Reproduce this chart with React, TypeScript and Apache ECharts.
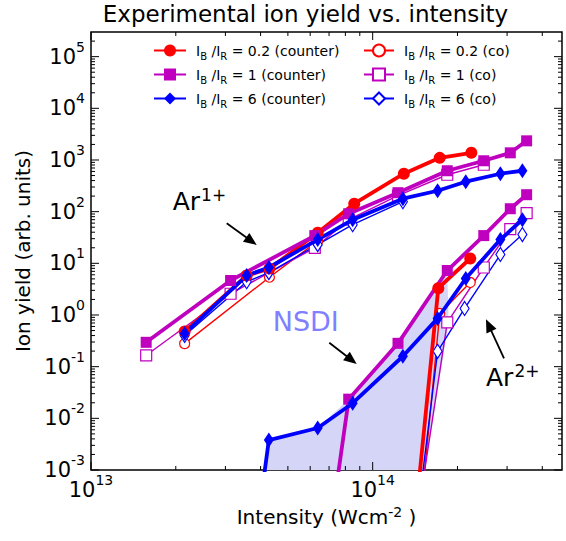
import React, { useEffect, useRef } from 'react';
import * as echarts from 'echarts';

const FONT = 'DejaVu Sans';

const X_MIN = 1e13;
const X_MAX = 4.7e14;
const Y_MIN = 1e-3;
const Y_MAX = 3e5;

const RATIOS = ['0.2', '1', '6'];
const COLORS = ['#ff0000', '#bf00bf', '#0000ff'];

// Ar1+ branch
const AR1_COUNTER_02 = [[2.15e13, 0.48], [3.57e13, 5.8], [4.3e13, 7.9], [6.38e13, 39], [8.6e13, 143], [1.29e14, 542], [1.73e14, 1100], [2.24e14, 1377]];
const AR1_COUNTER_1 = [[1.57e13, 0.296], [3.13e13, 4.65], [6.23e13, 34.4], [8.22e13, 91], [1.23e14, 233], [1.84e14, 619], [2.48e14, 966], [3.08e14, 1377], [3.52e14, 2348]];
const AR1_COUNTER_6 = [[2.15e13, 0.44], [3.57e13, 5.8], [4.28e13, 8.3], [6.38e13, 28.8], [8.49e13, 70], [1.28e14, 178], [1.7e14, 254], [2.14e14, 380], [2.84e14, 542], [3.4e14, 619]];
const AR1_CO_02 = [[2.15e13, 0.279], [4.3e13, 5.39], [6.38e13, 27]];
const AR1_CO_1 = [[1.57e13, 0.166], [3.13e13, 2.58], [6.23e13, 19.9], [8.22e13, 70], [1.23e14, 204], [1.84e14, 518], [2.48e14, 808]];
const AR1_CO_6 = [[2.15e13, 0.4], [3.57e13, 4.4], [4.28e13, 6.6], [6.38e13, 23], [8.49e13, 56], [1.28e14, 156]];

// Ar2+ branch
const AR2_COUNTER_02 = [[1.29e14, 7.6e-7], [1.71e14, 3.3], [2.22e14, 12.4]];
const AR2_COUNTER_1 = [[6.38e13, 1.3e-6], [8.22e13, 0.0235], [1.23e14, 0.283], [1.84e14, 7.26], [2.48e14, 34.4], [3.08e14, 114], [3.52e14, 213]];
const AR2_COUNTER_6 = [[3.57e13, 2.5e-6], [4.28e13, 0.0038], [6.38e13, 0.0065], [8.49e13, 0.0196], [1.28e14, 0.159], [1.7e14, 0.86], [2.14e14, 5.09], [2.84e14, 28.8], [3.4e14, 70]];
const AR2_CO_02 = [[1.47e14, 1e-4], [1.73e14, 1.07], [2.22e14, 4.26]];
const AR2_CO_1 = [[1.47e14, 2.4e-4], [1.84e14, 0.72], [2.48e14, 8.3], [3.08e14, 46], [3.52e14, 94]];
const AR2_CO_6 = [[1.47e14, 3e-4], [1.7e14, 0.198], [2.12e14, 1.34], [2.84e14, 14.8], [3.4e14, 36]];

// NSDI shaded region outline
const NSDI_FILL = [[4.14e13, 1e-3], [4.28e13, 0.0038], [6.38e13, 0.0065], [8.22e13, 0.0235], [1.23e14, 0.283], [1.84e14, 7.26], [1.86e14, 0.72], [1.53e14, 1e-3]];

// ticks
const X_MAJOR_TICKS = [1e13, 1e14];
const X_MINOR_TICKS = [2e13, 3e13, 4e13, 5e13, 6e13, 7e13, 8e13, 9e13, 2e14, 3e14, 4e14];
const Y_MAJOR_TICKS = [1e-3, 1e-2, 1e-1, 1, 10, 100, 1e3, 1e4, 1e5];
const MINOR_MULT = [2, 3, 4, 5, 6, 7, 8, 9];

const legendName = (i: number, mode: string) => `IB/IR = ${RATIOS[i]} (${mode})`;
const legendRich = (i: number, mode: string) => `{f|I}{s|B}{n| /I}{s|R}{n| = ${RATIOS[i]} (${mode})}`;

export default function App() {
  const ref = useRef<HTMLDivElement>(null);
  useEffect(() => {
    if (!ref.current) return;
    const chart = echarts.init(ref.current, undefined, { renderer: 'svg' });

    const counterSym = [
      { symbol: 'circle', size: 12 },
      { symbol: 'rect', size: 11 },
      { symbol: 'diamond', size: [10, 15] },
    ];
    const coSym = [
      { symbol: 'circle', size: 10 },
      { symbol: 'rect', size: 11 },
      { symbol: 'diamond', size: [9, 14] },
    ];
    const counterData = [[AR1_COUNTER_02, AR2_COUNTER_02], [AR1_COUNTER_1, AR2_COUNTER_1], [AR1_COUNTER_6, AR2_COUNTER_6]];
    const coData = [[AR1_CO_02, AR2_CO_02], [AR1_CO_1, AR2_CO_1], [AR1_CO_6, AR2_CO_6]];

    const lineSeries: any[] = [];
    [0, 1, 2].forEach((i) => {
      coData[i].forEach((d) => {
        lineSeries.push({
          type: 'line',
          name: legendName(i, 'co'),
          data: d,
          symbol: coSym[i].symbol,
          symbolSize: coSym[i].size,
          showAllSymbol: true,
          clip: true,
          lineStyle: { color: COLORS[i], width: 1.4 },
          itemStyle: { color: '#fff', borderColor: COLORS[i], borderWidth: 1.2 },
          emphasis: { disabled: true },
          z: 3,
        });
      });
    });
    [0, 1, 2].forEach((i) => {
      counterData[i].forEach((d) => {
        lineSeries.push({
          type: 'line',
          name: legendName(i, 'counter'),
          data: d,
          symbol: counterSym[i].symbol,
          symbolSize: counterSym[i].size,
          showAllSymbol: true,
          clip: true,
          lineStyle: { color: COLORS[i], width: 3.8 },
          itemStyle: { color: COLORS[i], borderColor: COLORS[i], borderWidth: 0 },
          emphasis: { disabled: true },
          z: 4,
        });
      });
    });

    const tickData: number[][] = [];
    X_MAJOR_TICKS.forEach((v) => tickData.push([v, Y_MIN, 1]));
    X_MINOR_TICKS.forEach((v) => tickData.push([v, Y_MIN, 2]));
    Y_MAJOR_TICKS.forEach((v) => tickData.push([X_MIN, v, 3]));
    for (let e = -3; e <= 5; e++) {
      MINOR_MULT.forEach((m) => {
        const v = m * Math.pow(10, e);
        if (v < Y_MAX * 0.99) tickData.push([X_MIN, v, 4]);
      });
    }

    const tickSeries = {
      type: 'custom',
      data: tickData,
      silent: true,
      z: 10,
      renderItem: (params: any, api: any) => {
        const kind = api.value(2);
        const p = api.coord([api.value(0), api.value(1)]);
        const cs = params.coordSys;
        const len = kind === 1 || kind === 3 ? 8 : 4;
        const style = { stroke: '#000', lineWidth: 1 };
        if (kind <= 2) {
          const b = cs.y + cs.height;
          return {
            type: 'group',
            children: [
              { type: 'line', shape: { x1: p[0], y1: b, x2: p[0], y2: b - len }, style },
              { type: 'line', shape: { x1: p[0], y1: cs.y, x2: p[0], y2: cs.y + len }, style },
            ],
          };
        }
        const r = cs.x + cs.width;
        return {
          type: 'group',
          children: [
            { type: 'line', shape: { x1: cs.x, y1: p[1], x2: cs.x + len, y2: p[1] }, style },
            { type: 'line', shape: { x1: r, y1: p[1], x2: r - len, y2: p[1] }, style },
          ],
        };
      },
    };

    const fillSeries = {
      type: 'custom',
      data: NSDI_FILL,
      silent: true,
      z: 1,
      renderItem: (params: any, api: any) => {
        if (params.dataIndex !== 0) return null;
        const pts = NSDI_FILL.map((d) => api.coord(d));
        return { type: 'polygon', shape: { points: pts }, style: { fill: '#d5d5f7', stroke: 'none' } };
      },
    };

    const arrow = (tx: number, ty: number, hx: number, hy: number) => {
      const dx = hx - tx;
      const dy = hy - ty;
      const L = Math.sqrt(dx * dx + dy * dy);
      const ux = dx / L;
      const uy = dy / L;
      const hl = 13;
      const hw = 5.5;
      const bx = hx - ux * hl;
      const by = hy - uy * hl;
      return [
        { type: 'line', shape: { x1: tx, y1: ty, x2: bx + ux * 2, y2: by + uy * 2 }, style: { stroke: '#000', lineWidth: 1.8 }, z: 20 },
        {
          type: 'polygon',
          shape: { points: [[hx, hy], [bx - uy * hw, by + ux * hw], [bx + uy * hw, by - ux * hw]] },
          style: { fill: '#000' },
          z: 20,
        },
      ];
    };

    const axisLabelFmt = (v: number) => {
      const l = Math.log10(v);
      const e = Math.round(l);
      if (Math.abs(l - e) > 1e-6) return '';
      return `{b|10}{sup|${e}}`;
    };
    const labelRich = {
      b: { fontSize: 21, fontFamily: FONT, color: '#000' },
      sup: { fontSize: 14, fontFamily: FONT, color: '#000', padding: [0, 0, 20, 0] },
    };

    const legends: any[] = [];
    const legendTextStyle = {
      fontFamily: FONT,
      fontSize: 14,
      color: '#000',
      rich: {
        f: { fontFamily: FONT, fontSize: 14, color: '#000', padding: [0, 0, 0, 5] },
        n: { fontFamily: FONT, fontSize: 14, color: '#000' },
        s: { fontFamily: FONT, fontSize: 10, color: '#000', padding: [12, 0, 0, 0] },
      },
    };
    [0, 1, 2].forEach((i) => {
      legends.push({
        data: [legendName(i, 'counter')],
        left: 153,
        top: 43.5 + i * 24,
        padding: 0,
        itemWidth: 32,
        itemHeight: 15,
        selectedMode: false,
        formatter: () => legendRich(i, 'counter'),
        textStyle: legendTextStyle,
      });
      legends.push({
        data: [legendName(i, 'co')],
        left: 363,
        top: 43.5 + i * 24,
        padding: 0,
        itemWidth: 30,
        itemHeight: 15,
        selectedMode: false,
        formatter: () => legendRich(i, 'co'),
        textStyle: legendTextStyle,
      });
    });

    const option: any = {
      animation: false,
      backgroundColor: '#fff',
      grid: { left: 91, right: 4, top: 32, bottom: 71, show: true, borderColor: '#000', borderWidth: 1.5, backgroundColor: 'transparent' },
      legend: legends,
      xAxis: {
        type: 'log',
        logBase: 10,
        min: X_MIN,
        max: X_MAX,
        interval: 1,
        axisLine: { show: false },
        axisTick: { show: false },
        splitLine: { show: false },
        axisLabel: { formatter: axisLabelFmt, rich: labelRich, margin: 3 },
        name: '{n|Intensity (Wcm}{s|-2}{n| )}',
        nameLocation: 'middle',
        nameGap: 35,
        nameTextStyle: {
          fontFamily: FONT,
          fontSize: 20,
          color: '#000',
          rich: {
            n: { fontFamily: FONT, fontSize: 20, color: '#000' },
            s: { fontFamily: FONT, fontSize: 14, color: '#000', padding: [0, 0, 9, 0] },
          },
        },
      },
      yAxis: {
        type: 'log',
        logBase: 10,
        min: Y_MIN,
        max: Y_MAX,
        interval: 1,
        axisLine: { show: false },
        axisTick: { show: false },
        splitLine: { show: false },
        axisLabel: { formatter: axisLabelFmt, rich: labelRich, margin: 6 },
        name: 'Ion yield (arb. units)',
        nameLocation: 'middle',
        nameGap: 56,
        nameTextStyle: { fontFamily: FONT, fontSize: 20, color: '#000' },
      },
      graphic: [
        {
          type: 'text',
          x: 305.5,
          y: 14.3,
          style: { text: 'Experimental ion yield vs. intensity', fontFamily: FONT, fontSize: 23, fill: '#000', align: 'center', verticalAlign: 'middle' },
        },
        {
          type: 'text',
          x: 172.7,
          y: 201.7,
          z: 20,
          style: {
            text: '{a|Ar}{s|1+}',
            align: 'left',
            verticalAlign: 'middle',
            rich: {
              a: { fontFamily: FONT, fontSize: 25, fill: '#000' },
              s: { fontFamily: FONT, fontSize: 17, fill: '#000', padding: [0, 0, 13, 1] },
            },
          },
        },
        {
          type: 'text',
          x: 486,
          y: 377,
          z: 20,
          style: {
            text: '{a|Ar}{s|2+}',
            align: 'left',
            verticalAlign: 'middle',
            rich: {
              a: { fontFamily: FONT, fontSize: 25, fill: '#000' },
              s: { fontFamily: FONT, fontSize: 17, fill: '#000', padding: [0, 0, 13, 1] },
            },
          },
        },
        {
          type: 'text',
          x: 272.7,
          y: 321,
          z: 20,
          style: { text: 'NSDI', fontFamily: FONT, fontSize: 27, fill: '#7f7fff', align: 'left', verticalAlign: 'middle' },
        },
        ...arrow(226.7, 223.3, 256.7, 245),
        ...arrow(329.3, 342.7, 356.7, 364),
        ...arrow(504, 358.3, 486, 319.3),
      ],
      series: [fillSeries, ...lineSeries, tickSeries],
    };

    chart.setOption(option);
    return () => chart.dispose();
  }, []);

  return <div ref={ref} style={{ width: 566, height: 541, position: 'absolute', left: 0, top: 0 }} />;
}
